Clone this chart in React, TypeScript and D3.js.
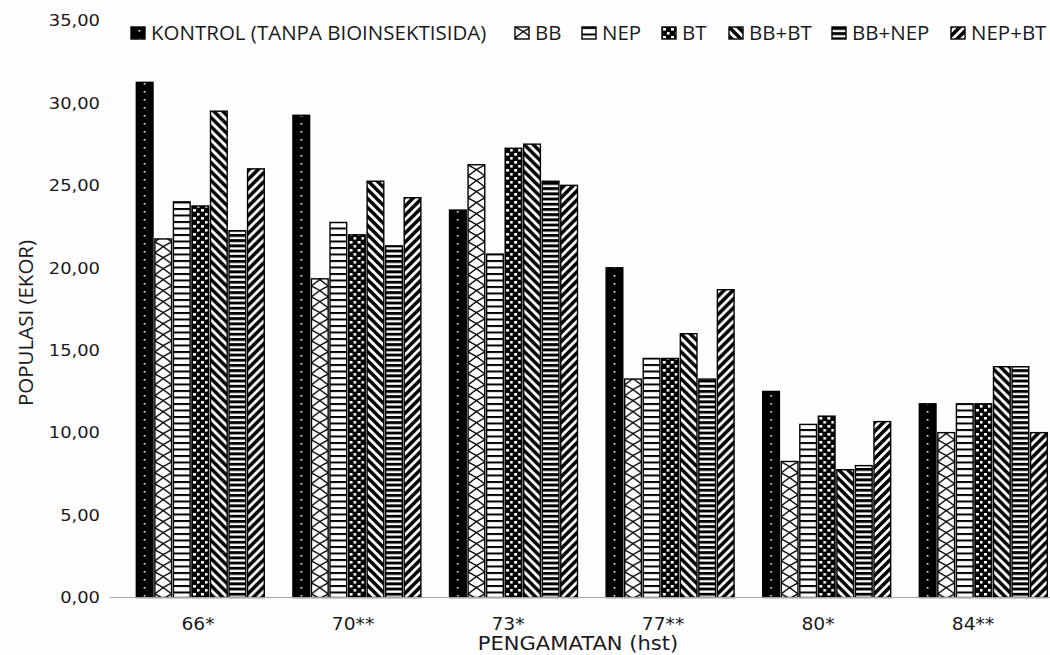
import React from "react";
import * as d3 from "d3";

// Observation days (hst) with significance marks
const groups = ["66*", "70**", "73*", "77**", "80*", "84**"];

// Treatments
const seriesNames = [
  "KONTROL (TANPA BIOINSEKTISIDA)",
  "BB",
  "NEP",
  "BT",
  "BB+BT",
  "BB+NEP",
  "NEP+BT",
];

// Population (ekor) per treatment, one value per observation day
const kontrol = [31.25, 29.25, 23.5, 20.0, 12.5, 11.75];
const bb = [21.75, 19.33, 26.25, 13.25, 8.25, 10.0];
const nep = [24.0, 22.75, 20.83, 14.5, 10.5, 11.75];
const bt = [23.75, 22.0, 27.25, 14.5, 11.0, 11.75];
const bbBt = [29.5, 25.25, 27.5, 16.0, 7.75, 14.0];
const bbNep = [22.25, 21.33, 25.25, 13.25, 8.0, 14.0];
const nepBt = [26.0, 24.25, 25.0, 18.67, 10.67, 10.0];

const seriesValues = [kontrol, bb, nep, bt, bbBt, bbNep, nepBt];

const yTicks = [0, 5, 10, 15, 20, 25, 30, 35];

const W = 1050;
const H = 655;

const fmt = (v: number) => v.toFixed(2).replace(".", ",");

export default function App() {
  const x0 = d3
    .scaleBand<string>()
    .domain(groups)
    .range([122, 1061.6])
    .paddingInner(0.183)
    .paddingOuter(0.0915);
  const x1 = d3
    .scaleBand<string>()
    .domain(seriesNames)
    .range([0, x0.bandwidth()])
    .paddingInner(0.1);
  const y = d3.scaleLinear().domain([0, 35]).range([597.5, 20.5]);
  const labelX = d3.scalePoint<string>().domain(groups).range([198, 973]);

  const bw = x1.bandwidth();

  const patterns = [
    // KONTROL: solid black with a column of small white dots
    <pattern key="p0" id="p0" patternUnits="userSpaceOnUse" width={bw} height={8}>
      <rect width={bw} height={8} fill="#000" />
      <rect x={bw / 2 - 0.8} y={3} width={1.6} height={1.6} fill="#fff" />
    </pattern>,
    // BB: chain of crossing diagonals
    <pattern key="p1" id="p1" patternUnits="userSpaceOnUse" width={bw} height={11}>
      <rect width={bw} height={11} fill="#fff" />
      <path
        d={`M0,0 Q${bw * 0.55},${4} ${bw},11 M${bw},0 Q${bw * 0.45},${4} 0,11`}
        stroke="#000"
        strokeWidth={1.3}
        fill="none"
      />
    </pattern>,
    // NEP: wide horizontal lines
    <pattern key="p2" id="p2" patternUnits="userSpaceOnUse" width={4} height={6.5}>
      <rect width={4} height={6.5} fill="#fff" />
      <rect width={4} height={2} fill="#000" />
    </pattern>,
    // BT: large confetti
    <pattern key="p3" id="p3" patternUnits="userSpaceOnUse" width={8} height={8}>
      <rect width={8} height={8} fill="#000" />
      <rect x={1} y={1} width={3} height={2.6} fill="#fff" />
      <rect x={5} y={5} width={2.6} height={2.6} fill="#fff" />
    </pattern>,
    // BB+BT: wide downward diagonal
    <pattern key="p4" id="p4" patternUnits="userSpaceOnUse" width={9} height={9}>
      <rect width={9} height={9} fill="#fff" />
      <path
        d="M-1,-1 L10,10 M-5.5,3.5 L5.5,14.5 M3.5,-5.5 L14.5,5.5"
        stroke="#000"
        strokeWidth={3.4}
      />
    </pattern>,
    // BB+NEP: dark horizontal lines
    <pattern key="p5" id="p5" patternUnits="userSpaceOnUse" width={4} height={5.2}>
      <rect width={4} height={5.2} fill="#fff" />
      <rect width={4} height={2.9} fill="#000" />
    </pattern>,
    // NEP+BT: wide upward diagonal
    <pattern key="p6" id="p6" patternUnits="userSpaceOnUse" width={9} height={9}>
      <rect width={9} height={9} fill="#fff" />
      <path
        d="M-1,10 L10,-1 M-5.5,5.5 L5.5,-5.5 M3.5,14.5 L14.5,3.5"
        stroke="#000"
        strokeWidth={3.6}
      />
    </pattern>,
  ];

  // legend layout: icon left edge for each entry
  const legendX = [131, 515, 582, 662, 729, 832, 951];

  return (
    <svg
      width={W}
      height={H}
      style={{ position: "absolute", left: 0, top: 0, background: "#fff" }}
    >
      <defs>{patterns}</defs>
      <rect width={W} height={H} fill="#fefefe" />

      {/* bars */}
      {groups.map((g, gi) => (
        <g key={g}>
          {seriesNames.map((s, si) => {
            const v = seriesValues[si][gi];
            const bx = (x0(g) ?? 0) + (x1(s) ?? 0);
            return (
              <g key={s} transform={`translate(${bx},0)`}>
                <rect
                  x={0}
                  y={y(v)}
                  width={bw}
                  height={y(0) - y(v)}
                  fill={`url(#p${si})`}
                  stroke="#000"
                  strokeWidth={1.4}
                />
              </g>
            );
          })}
        </g>
      ))}

      {/* x axis line */}
      <line x1={110} x2={W} y1={y(0)} y2={y(0)} stroke="#a6a6a6" strokeWidth={1} />

      {/* y tick labels */}
      {yTicks.map((t) => (
        <text
          key={t}
          transform={`translate(100,${y(t)}) scale(1.12,1)`}
          dy="0.36em"
          textAnchor="end"
          fontFamily="DejaVu Sans"
          fontSize={16}
          fill="#1a1a1a"
        >
          {fmt(t)}
        </text>
      ))}

      {/* x tick labels */}
      {groups.map((g) => (
        <text
          key={g}
          transform={`translate(${labelX(g)},630) scale(1.1,1)`}
          textAnchor="middle"
          fontFamily="DejaVu Sans"
          fontSize={17}
          fill="#1a1a1a"
        >
          {g}
        </text>
      ))}

      {/* axis titles */}
      <text
        transform="translate(578,650) scale(1.08,1)"
        textAnchor="middle"
        fontFamily="DejaVu Sans"
        fontSize={19.5}
        fill="#1a1a1a"
      >
        PENGAMATAN (hst)
      </text>
      <text
        transform={`translate(33,${323}) rotate(-90)`}
        textAnchor="middle"
        fontFamily="Open Sans"
        fontSize={20.5}
        fill="#1a1a1a"
      >
        POPULASI (EKOR)
      </text>

      {/* legend */}
      {seriesNames.map((s, si) => (
        <g key={s} transform={`translate(${legendX[si]},27)`}>
          <rect
            x={0}
            y={0}
            width={14}
            height={12}
            fill={`url(#p${si})`}
            stroke="#000"
            strokeWidth={1.4}
          />
          <text
            x={20}
            y={12.5}
            fontFamily="Open Sans"
            fontSize={20.5}
            fill="#1a1a1a"
          >
            {s}
          </text>
        </g>
      ))}
    </svg>
  );
}
